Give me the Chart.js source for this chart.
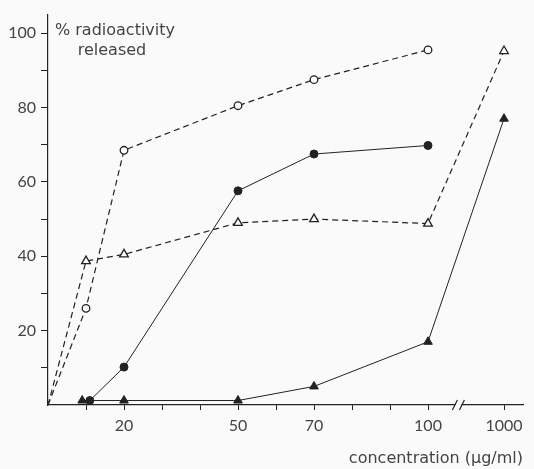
<!DOCTYPE html>
<html>
<head>
<meta charset="utf-8">
<script src="https://cdn.jsdelivr.net/npm/chart.js@4.4.1/dist/chart.umd.min.js"></script>
<style>
  html, body { margin: 0; padding: 0; background: #fafafa; }
  #wrap { width: 534px; height: 469px; }
</style>
</head>
<body>
<div id="wrap"><canvas id="chart" width="534" height="469"></canvas></div>
<script>
// concentrations (ug/ml) and % radioactivity released
const openCircleConc = [0, 10, 20, 50, 70, 100];
const openCircleVals = [0, 26, 68.5, 80.5, 87.5, 95.5];

const openTriConc = [0, 10, 20, 50, 70, 100, 1000];
const openTriVals = [0, 38.7, 40.5, 49, 50, 48.8, 95.2];

const filledCircleConc = [11, 20, 50, 70, 100];
const filledCircleVals = [1.2, 10.2, 57.6, 67.5, 69.8];

const filledTriConc = [9, 20, 50, 70, 100, 1000];
const filledTriVals = [1.2, 1.2, 1.2, 5, 17, 77];

const xTickValues = [10, 20, 30, 40, 50, 60, 70, 80, 90, 100, 1000];
const xTickLabels = ['', '20', '', '', '50', '', '70', '', '', '100', '1000'];
const yTickValues = [10, 20, 30, 40, 50, 60, 70, 80, 90, 100];
const yTickLabels = ['', '20', '', '40', '', '60', '', '80', '', '100'];

// axis is broken between 100 and 1000; 1000 sits at position 120
const BREAK_AT = 108;
const axisPos = c => (c === 1000 ? 120 : c);

const ink = '#222';
const textCol = '#444';
const TICK_FONT = 'Lato, "DejaVu Sans", sans-serif';
const TEXT_FONT = '"DejaVu Sans", sans-serif';

const toPoints = (xs, ys) => xs.map((x, i) => ({ x: axisPos(x), y: ys[i] }));
const radii = (xs, r) => xs.map(x => (x === 0 ? 0 : r));

const extras = {
  id: 'extras',
  afterDraw(chart) {
    const { ctx, scales } = chart;
    const xs = scales.x, ys = scales.y;
    // axis break marks
    const bx = xs.getPixelForValue(BREAK_AT);
    const by = ys.getPixelForValue(0);
    ctx.save();
    ctx.fillStyle = '#fafafa';
    ctx.fillRect(bx - 3, by - 2, 6, 4);
    ctx.strokeStyle = ink;
    ctx.lineWidth = 1.2;
    ctx.beginPath();
    ctx.moveTo(bx - 6, by + 5); ctx.lineTo(bx - 1, by - 5);
    ctx.moveTo(bx + 1, by + 5); ctx.lineTo(bx + 6, by - 5);
    ctx.stroke();
    // captions
    ctx.fillStyle = textCol;
    ctx.font = '16px ' + TEXT_FONT;
    ctx.textBaseline = 'alphabetic';
    ctx.textAlign = 'center';
    ctx.fillText('% radioactivity', 115, 35);
    ctx.fillText('released', 112, 55);
    ctx.textAlign = 'right';
    ctx.fillText('concentration (µg/ml)', 523, 463);
    ctx.restore();
  }
};

new Chart(document.getElementById('chart'), {
  type: 'scatter',
  data: {
    datasets: [
      {
        data: toPoints(openCircleConc, openCircleVals),
        showLine: true,
        borderColor: ink, borderWidth: 1.2, borderDash: [6, 4],
        pointStyle: 'circle', pointRadius: radii(openCircleConc, 3.8),
        pointBackgroundColor: '#fafafa', pointBorderColor: ink, pointBorderWidth: 1.3
      },
      {
        data: toPoints(openTriConc, openTriVals),
        showLine: true,
        borderColor: ink, borderWidth: 1.2, borderDash: [6, 4],
        pointStyle: 'triangle', pointRadius: radii(openTriConc, 5),
        pointBackgroundColor: '#fafafa', pointBorderColor: ink, pointBorderWidth: 1.3
      },
      {
        data: toPoints(filledCircleConc, filledCircleVals),
        showLine: true,
        borderColor: ink, borderWidth: 1,
        pointStyle: 'circle', pointRadius: 4,
        pointBackgroundColor: ink, pointBorderColor: ink, pointBorderWidth: 1
      },
      {
        data: toPoints(filledTriConc, filledTriVals),
        showLine: true,
        borderColor: ink, borderWidth: 1,
        pointStyle: 'triangle', pointRadius: 5,
        pointBackgroundColor: ink, pointBorderColor: ink, pointBorderWidth: 1
      }
    ]
  },
  options: {
    responsive: false,
    animation: false,
    clip: false,
    layout: { padding: { top: 9, right: 11, bottom: 0, left: 0 } },
    plugins: { legend: { display: false }, tooltip: { enabled: false } },
    scales: {
      x: {
        type: 'linear', min: 0, max: 125,
        afterFit: s => { s.height = 64; },
        afterBuildTicks: s => { s.ticks = xTickValues.map(v => ({ value: axisPos(v) })); },
        ticks: {
          autoSkip: false, maxRotation: 0, padding: 6,
          color: textCol, font: { family: TICK_FONT, size: 16 },
          callback: (v, i) => xTickLabels[i]
        },
        grid: { drawOnChartArea: false, tickLength: 5, color: ink, lineWidth: 1 },
        border: { color: ink, width: 1.2 }
      },
      y: {
        type: 'linear', min: 0, max: 105,
        afterFit: s => { s.width = 48; },
        afterBuildTicks: s => { s.ticks = yTickValues.map(v => ({ value: v })); },
        ticks: {
          autoSkip: false, padding: 5,
          color: textCol, font: { family: TICK_FONT, size: 16 },
          callback: (v, i) => yTickLabels[i]
        },
        grid: { drawOnChartArea: false, tickLength: 7, color: ink, lineWidth: 1 },
        border: { color: ink, width: 1.2 }
      }
    }
  },
  plugins: [extras]
});
</script>
</body>
</html>
